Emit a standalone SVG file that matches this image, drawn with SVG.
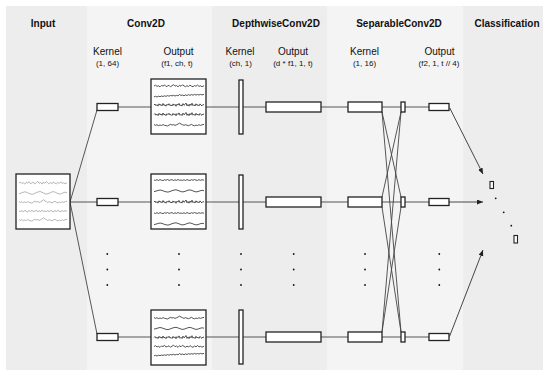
<svg xmlns="http://www.w3.org/2000/svg" xmlns:xlink="http://www.w3.org/1999/xlink" width="550" height="377" viewBox="0 0 550 377">
<style>
.pa{fill:#ededed}
.pb{fill:#f4f4f4}
.box{fill:#fff;stroke:#222;stroke-width:1.3}
.ln{stroke:#444;stroke-width:0.9;fill:none}
.ar{stroke:#333;stroke-width:0.9;fill:none;marker-end:url(#ah)}
.dot{fill:#111}
.ttl{font-family:"Liberation Sans",Arial,sans-serif;font-size:10px;font-weight:bold;fill:#111;text-anchor:middle}
.sub{font-family:"Liberation Sans",Arial,sans-serif;font-size:10px;fill:#111;text-anchor:middle}
.par{font-family:"Liberation Sans",Arial,sans-serif;font-size:8px;fill:#111;text-anchor:middle}
.wi{fill:none;stroke:#8c8c8c;stroke-width:0.6}
.wo{fill:none;stroke:#2a2a2a;stroke-width:0.8}
</style>
<defs>
<marker id="ah" markerUnits="userSpaceOnUse" markerWidth="7" markerHeight="6" refX="6" refY="2.5" orient="auto"><path d="M0,0 L6,2.5 L0,5 z" fill="#222"/></marker>
<path id="wa" d="M0,0 L1.5,-0.8 3,0.4 4.5,-0.2 6,0.9 7.5,-0.6 9,0.1 10.5,-1.1 12,0.5 13.5,0 15,-0.7 16.5,0.8 18,-0.3 19.5,-1.4 21,0.2 22.5,-0.5 24,0.9 25.5,-0.8 27,0.3 28.5,-1.2 30,-0.1 31.5,0.7 33,-0.4 34.5,0.6 36,-0.9 37.5,0.2 39,0.8 40.5,-0.5 42,0.3 43.5,-1 45,0.4 46.5,-0.2 48,0.7 50,-0.3"/>
<path id="wb" d="M0,0.6 L2,0.1 4,-0.5 6,-1 8,-0.6 10,0.2 12,0.8 14,1.1 16,0.5 18,-0.3 20,-0.9 22,-1.2 24,-0.6 26,0.2 28,0.9 30,0.7 32,0 34,-0.8 36,-1.1 38,-0.5 40,0.3 42,0.9 44,0.6 46,-0.2 48,-0.7 50,-0.3"/>
<path id="wc" d="M0,0 L1,-1 2,0.7 3,-0.4 4,1.1 5,-1.2 6,0.3 7,-0.6 8,0.9 9,-1.5 10,0.5 11,-0.3 12,1.2 13,-0.8 14,0.2 15,-1.3 16,0.6 17,-0.1 18,1 19,-1.1 20,0.4 21,-0.7 22,1.3 23,-0.9 24,0.1 25,-1.6 26,0.8 27,-0.2 28,1.1 29,-1.4 30,0.3 31,-0.5 32,-2 33,0.9 34,-0.6 35,1.2 36,-1 37,0.4 38,-1.8 39,0.7 40,-0.3 41,1 42,-1.2 43,0.5 44,-0.4 45,0.9 46,-1.1 47,0.2 48,0.8 49,-0.6 50,0.1"/>
<path id="wd" d="M0,0 L1.5,0.4 3,-0.3 4.5,0.5 6,-0.4 7.5,0.2 9,0.6 10.5,-0.3 12,0.3 13.5,-0.5 15,0.4 16.5,0 18,-0.4 19.5,0.5 21,-0.2 22.5,0.4 24,-0.5 25.5,0.3 27,0 28.5,0.4 30,-0.3 31.5,0.5 33,-0.4 34.5,0.2 36,0.5 37.5,-0.3 39,0.3 40.5,-0.5 42,0.2 43.5,0.4 45,-0.3 46.5,0.3 48,-0.2 50,0.2"/>
<path id="we" d="M0,-0.5 L1.5,0.4 3,-0.3 4.5,0.6 6,0 7.5,0.5 9,-0.4 10.5,0.3 12,0.6 13.5,1 15,0.1 16.5,-0.6 18,0 19.5,-0.4 21,0.4 22.5,-0.2 24,-0.9 25.5,-1.9 27,-1 28.5,-0.3 30,0.4 31.5,-0.3 33,0.2 34.5,0.7 36,0 37.5,-0.6 39,0.3 40.5,0.8 42,0.1 43.5,0.5 45,-0.3 46.5,0.4 48,-0.2 50,-0.6"/>
<path id="wf" d="M0,0.8 L1.5,0.3 3,1 4.5,0.2 6,0.7 7.5,0 9,0.5 10.5,-0.2 12,0.4 13.5,-0.4 15,0.2 16.5,-0.5 18,-0.1 19.5,-0.7 21,0 22.5,-0.6 24,-0.2 25.5,-1.5 27,-0.5 28.5,-1 30,-0.3 31.5,-1.1 33,-0.5 34.5,-1.3 36,-0.7 37.5,-1.4 39,-0.8 40.5,-1.6 42,-0.9 43.5,-1.5 45,-1 46.5,-1.6 48,-1.1 50,-1.6"/>
</defs>

<g id="panels">
<rect class="pa" x="6" y="6" width="81" height="364"/>
<rect class="pb" x="87" y="6" width="125" height="364"/>
<rect class="pa" x="212" y="6" width="115" height="364"/>
<rect class="pb" x="327" y="6" width="136" height="364"/>
<rect class="pa" x="463" y="6" width="80" height="364"/>
</g>

<g id="labels">
<text class="ttl" x="43" y="27">Input</text>
<text class="ttl" x="146" y="27">Conv2D</text>
<text class="ttl" x="276" y="27">DepthwiseConv2D</text>
<text class="ttl" x="399" y="27">SeparableConv2D</text>
<text class="ttl" x="507" y="27">Classification</text>
<text class="sub" x="107.5" y="54.5">Kernel</text>
<text class="sub" x="178.5" y="54.5">Output</text>
<text class="sub" x="240" y="54.5">Kernel</text>
<text class="sub" x="293" y="54.5">Output</text>
<text class="sub" x="364.5" y="54.5">Kernel</text>
<text class="sub" x="439.5" y="54.5">Output</text>
<text class="par" x="107.5" y="66">(1, 64)</text>
<text class="par" x="177" y="66">(f1, ch, t)</text>
<text class="par" x="240.5" y="66">(ch, 1)</text>
<text class="par" x="293" y="66">(d * f1, 1, t)</text>
<text class="par" x="364.5" y="66">(1, 16)</text>
<text class="par" x="439" y="66">(f2, 1, t // 4)</text>
</g>

<g id="connectors">
<line class="ln" x1="70" y1="202" x2="97" y2="110"/>
<line class="ln" x1="70" y1="202" x2="97" y2="202"/>
<line class="ln" x1="70" y1="202" x2="97" y2="334"/>
<line class="ln" x1="118" y1="107" x2="151" y2="107"/>
<line class="ln" x1="118" y1="202" x2="151" y2="202"/>
<line class="ln" x1="118" y1="337" x2="151" y2="337"/>
<line class="ln" x1="206" y1="107" x2="266" y2="107"/>
<line class="ln" x1="206" y1="202" x2="266" y2="202"/>
<line class="ln" x1="206" y1="337" x2="266" y2="337"/>
<line class="ln" x1="321" y1="107" x2="348" y2="107"/>
<line class="ln" x1="321" y1="202" x2="348" y2="202"/>
<line class="ln" x1="321" y1="337" x2="348" y2="337"/>
<line class="ln" x1="382" y1="107" x2="429" y2="107"/>
<line class="ln" x1="382" y1="202" x2="429" y2="202"/>
<line class="ln" x1="382" y1="337" x2="429" y2="337"/>
<line class="ln" x1="382" y1="112" x2="401" y2="197"/>
<line class="ln" x1="382" y1="112" x2="401" y2="332"/>
<line class="ln" x1="382" y1="197" x2="401" y2="112"/>
<line class="ln" x1="382" y1="207" x2="401" y2="332"/>
<line class="ln" x1="382" y1="332" x2="401" y2="112"/>
<line class="ln" x1="382" y1="332" x2="401" y2="207"/>
<line class="ar" x1="449.5" y1="107.5" x2="483" y2="174"/>
<line class="ar" x1="449" y1="202" x2="483" y2="202"/>
<line class="ar" x1="449.5" y1="336.5" x2="483" y2="250"/>
</g>

<g id="input">
<rect class="box" x="16" y="174" width="54" height="55"/>
<use href="#wa" class="wi" transform="translate(19,183) scale(0.96,1.2)"/>
<use href="#wb" class="wi" transform="translate(19,193) scale(0.96,1.2)"/>
<use href="#we" class="wi" transform="translate(19,202) scale(0.96,1.2)"/>
<use href="#wd" class="wi" transform="translate(19,211) scale(0.96,1.4)"/>
<use href="#we" class="wi" transform="translate(19,220) scale(0.96,1.2)"/>
</g>

<g id="conv-kernel-1"><rect class="box" x="97" y="103.5" width="21" height="7"/></g>
<g id="conv-kernel-2"><rect class="box" x="97" y="198.5" width="21" height="7"/></g>
<g id="conv-kernel-n"><rect class="box" x="97" y="333.5" width="21" height="7"/></g>

<g id="conv-output-1">
<rect class="box" x="151" y="79" width="55" height="55"/>
<use href="#wa" class="wo" transform="translate(154,86)"/>
<use href="#wf" class="wo" transform="translate(154,96)"/>
<use href="#wc" class="wo" transform="translate(154,105)"/>
<use href="#wc" class="wo" transform="translate(154,114.5)"/>
<use href="#we" class="wo" transform="translate(154,125)"/>
</g>
<g id="conv-output-2">
<rect class="box" x="151" y="174" width="55" height="55"/>
<use href="#wd" class="wo" transform="translate(154,180)"/>
<use href="#wb" class="wo" transform="translate(154,191)"/>
<use href="#wc" class="wo" transform="translate(154,202)"/>
<use href="#wd" class="wo" transform="translate(154,213)"/>
<use href="#wb" class="wo" transform="translate(154,224)"/>
</g>
<g id="conv-output-n">
<rect class="box" x="151" y="310" width="55" height="55"/>
<use href="#we" class="wo" transform="translate(154,318)"/>
<use href="#wb" class="wo" transform="translate(154,328.5)"/>
<use href="#wc" class="wo" transform="translate(154,337.5)"/>
<use href="#wa" class="wo" transform="translate(154,346.5)"/>
<use href="#wf" class="wo" transform="translate(154,355)"/>
</g>

<g id="dw-kernel-1"><rect class="box" x="239" y="80" width="4" height="54"/></g>
<g id="dw-kernel-2"><rect class="box" x="239" y="175" width="4" height="54"/></g>
<g id="dw-kernel-n"><rect class="box" x="239" y="310" width="4" height="54"/></g>

<g id="dw-output-1"><rect class="box" x="266" y="102" width="55" height="10"/></g>
<g id="dw-output-2"><rect class="box" x="266" y="197" width="55" height="10"/></g>
<g id="dw-output-n"><rect class="box" x="266" y="332" width="55" height="10"/></g>

<g id="sep-kernel-1"><rect class="box" x="348" y="102" width="34" height="10"/></g>
<g id="sep-kernel-2"><rect class="box" x="348" y="197" width="34" height="10"/></g>
<g id="sep-kernel-n"><rect class="box" x="348" y="332" width="34" height="10"/></g>

<g id="pointwise-1"><rect class="box" x="401" y="102" width="4" height="10"/></g>
<g id="pointwise-2"><rect class="box" x="401" y="197" width="4" height="10"/></g>
<g id="pointwise-n"><rect class="box" x="401" y="332" width="4" height="10"/></g>

<g id="sep-output-1"><rect class="box" x="429" y="103.5" width="20" height="7"/></g>
<g id="sep-output-2"><rect class="box" x="429" y="198.5" width="20" height="7"/></g>
<g id="sep-output-n"><rect class="box" x="429" y="333.5" width="20" height="7"/></g>

<g id="classes">
<rect class="box" x="490" y="181.5" width="3.5" height="7" style="stroke-width:1.1"/>
<circle class="dot" cx="495.7" cy="198.3" r="0.9"/>
<circle class="dot" cx="503.7" cy="212.3" r="0.9"/>
<circle class="dot" cx="511.3" cy="225.7" r="0.9"/>
<rect class="box" x="514" y="235.5" width="3.5" height="7.5" style="stroke-width:1.1"/>
</g>

<g id="ellipsis">
<circle class="dot" cx="107.3" cy="254" r="0.9"/><circle class="dot" cx="107.3" cy="269.5" r="0.9"/><circle class="dot" cx="107.3" cy="285" r="0.9"/>
<circle class="dot" cx="179" cy="254" r="0.9"/><circle class="dot" cx="179" cy="269.5" r="0.9"/><circle class="dot" cx="179" cy="285" r="0.9"/>
<circle class="dot" cx="241" cy="254" r="0.9"/><circle class="dot" cx="241" cy="269.5" r="0.9"/><circle class="dot" cx="241" cy="285" r="0.9"/>
<circle class="dot" cx="293.7" cy="254" r="0.9"/><circle class="dot" cx="293.7" cy="269.5" r="0.9"/><circle class="dot" cx="293.7" cy="285" r="0.9"/>
<circle class="dot" cx="365" cy="254" r="0.9"/><circle class="dot" cx="365" cy="269.5" r="0.9"/><circle class="dot" cx="365" cy="285" r="0.9"/>
<circle class="dot" cx="439.3" cy="254" r="0.9"/><circle class="dot" cx="439.3" cy="269.5" r="0.9"/><circle class="dot" cx="439.3" cy="285" r="0.9"/>
</g>
</svg>
